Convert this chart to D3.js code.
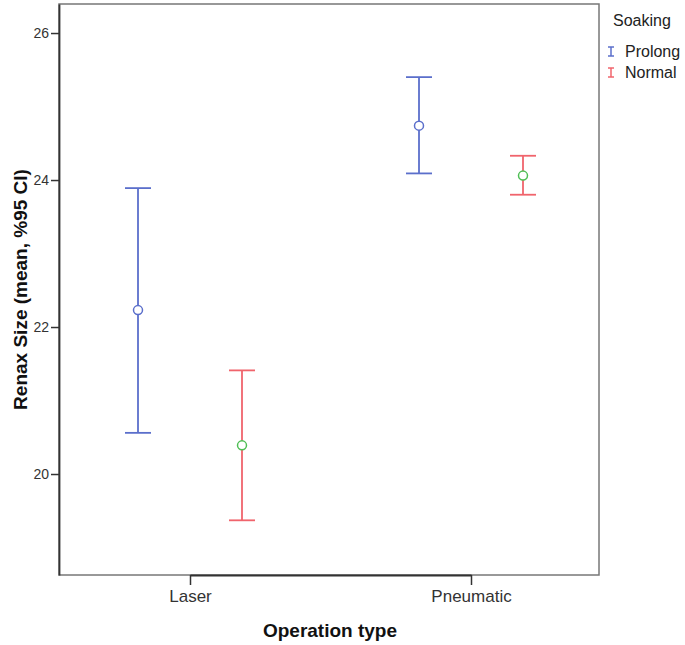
<!DOCTYPE html>
<html>
<head>
<meta charset="utf-8">
<script src="https://cdn.jsdelivr.net/npm/d3@7"></script>
<style>
  body { margin: 0; background: #fff; }
  text { font-family: "Liberation Sans", Arial, sans-serif; }
</style>
</head>
<body>
<div id="chart"></div>
<script>
// Error bar chart: Renax size by operation type and soaking group

const categories = ['Laser', 'Pneumatic'];
const groups = ['Prolong', 'Normal'];
const yTicks = [20, 22, 24, 26];

// mean, lower and upper 95% CI, per group, in category order
const prolongMean = [22.23, 24.74];
const prolongLow = [20.56, 24.09];
const prolongHigh = [23.89, 25.40];
const normalMean = [20.39, 24.06];
const normalLow = [19.37, 23.80];
const normalHigh = [21.41, 24.33];

const barColors = { Prolong: '#5b6fcb', Normal: '#f0646c' };
const dotColors = { Prolong: '#5b6fcb', Normal: '#4fbf55' };

const W = 685, H = 645;
const margin = { top: 4, right: 86, bottom: 70, left: 59 };
const width = W - margin.left - margin.right;
const height = H - margin.top - margin.bottom;

const svg = d3.select('#chart').append('svg')
  .attr('width', W)
  .attr('height', H);

const g = svg.append('g')
  .attr('transform', `translate(${margin.left},${margin.top})`);

// Scales
const x = d3.scalePoint().domain(categories).range([131, 412]);
const xSub = d3.scalePoint().domain(groups).range([-52, 52]);
const y = d3.scaleLinear().domain([18.626, 26.395]).range([height, 0]);

// Build rows from the arrays
const rows = [];
categories.forEach((c, i) => {
  rows.push({ cat: c, grp: 'Prolong', mean: prolongMean[i], lo: prolongLow[i], hi: prolongHigh[i] });
  rows.push({ cat: c, grp: 'Normal', mean: normalMean[i], lo: normalLow[i], hi: normalHigh[i] });
});

// Frame (top / right)
g.append('rect')
  .attr('width', width)
  .attr('height', height)
  .attr('fill', 'none')
  .attr('stroke', '#777')
  .attr('stroke-width', 1.5);

// Axes
const yAxis = d3.axisLeft(y).tickValues(yTicks).tickSize(8).tickSizeOuter(0).tickPadding(2);
const xAxis = d3.axisBottom(x).tickSize(10).tickSizeOuter(0).tickPadding(5);

const yG = g.append('g').call(yAxis);
const xG = g.append('g').attr('transform', `translate(0,${height})`).call(xAxis);

[yG, xG].forEach(a => {
  a.select('.domain').attr('stroke', '#333').attr('stroke-width', 1.8);
  a.selectAll('.tick line').attr('stroke', '#333').attr('stroke-width', 1.5);
  a.selectAll('.tick text').attr('fill', '#333');
});
yG.selectAll('.tick text').style('font-size', '14px');
xG.selectAll('.tick text').style('font-size', '17px');

// Error bars
const capW = 13;
const bars = g.selectAll('.bar').data(rows).enter().append('g')
  .attr('class', 'bar')
  .attr('transform', d => `translate(${x(d.cat) + xSub(d.grp)},0)`);

bars.append('line')
  .attr('y1', d => y(d.lo)).attr('y2', d => y(d.hi))
  .attr('stroke', d => barColors[d.grp]).attr('stroke-width', 1.8);

bars.selectAll('.cap').data(d => [d.lo, d.hi].map(v => ({ v, grp: d.grp }))).enter()
  .append('line')
  .attr('x1', -capW).attr('x2', capW)
  .attr('y1', d => y(d.v)).attr('y2', d => y(d.v))
  .attr('stroke', d => barColors[d.grp]).attr('stroke-width', 1.8);

bars.append('circle')
  .attr('cy', d => y(d.mean))
  .attr('r', 4.5)
  .attr('fill', '#fff')
  .attr('stroke', d => dotColors[d.grp])
  .attr('stroke-width', 1.5);

// Axis titles
svg.append('text')
  .attr('x', 330)
  .attr('y', 637)
  .attr('text-anchor', 'middle')
  .style('font-size', '19px')
  .style('font-weight', 'bold')
  .attr('fill', '#111')
  .text('Operation type');

svg.append('text')
  .attr('transform', `translate(27,${margin.top + height / 2}) rotate(-90)`)
  .attr('text-anchor', 'middle')
  .style('font-size', '19px')
  .style('font-weight', 'bold')
  .attr('fill', '#111')
  .text('Renax Size (mean, %95 CI)');

// Legend
const legend = svg.append('g').attr('transform', 'translate(611,0)');
legend.append('text')
  .attr('x', 2).attr('y', 26)
  .style('font-size', '16px').attr('fill', '#222')
  .text('Soaking');

groups.forEach((grp, i) => {
  const cy = 51.5 + i * 21;
  const col = barColors[grp];
  const item = legend.append('g').attr('transform', `translate(0,${cy})`);
  item.append('line').attr('x1', 0).attr('x2', 0).attr('y1', -4.5).attr('y2', 4.5)
    .attr('stroke', col).attr('stroke-width', 1.5);
  item.append('line').attr('x1', -3).attr('x2', 3).attr('y1', -4.5).attr('y2', -4.5)
    .attr('stroke', col).attr('stroke-width', 1.5);
  item.append('line').attr('x1', -3).attr('x2', 3).attr('y1', 4.5).attr('y2', 4.5)
    .attr('stroke', col).attr('stroke-width', 1.5);
  item.append('text')
    .attr('x', 14).attr('y', 5.5)
    .style('font-size', '16px').attr('fill', '#222')
    .text(grp);
});
</script>
</body>
</html>
